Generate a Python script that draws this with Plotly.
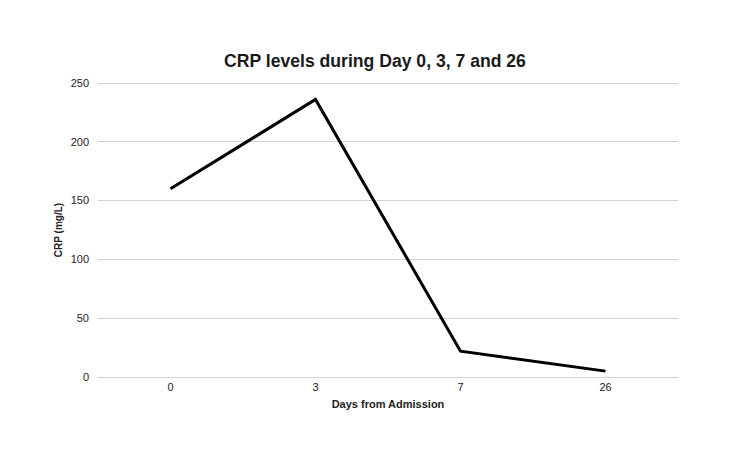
import plotly.graph_objects as go

days = ["0", "3", "7", "26"]
crp = [160, 236, 22, 5]
y_ticks = [0, 50, 100, 150, 200, 250]

fig = go.Figure()
fig.add_trace(go.Scatter(
    x=days, y=crp, mode="lines",
    line=dict(color="#000000", width=3),
    showlegend=False,
))

fig.update_layout(
    template="none",
    width=750, height=461,
    margin=dict(l=98, r=72, t=81, b=82),
    paper_bgcolor="white", plot_bgcolor="white",
    font=dict(family="Liberation Sans, Arial, sans-serif", color="#222222"),
    title=dict(
        text="<b>CRP levels during Day 0, 3, 7 and 26</b>",
        x=0.5, xanchor="center", y=1 - 61/461, yanchor="middle",
        font=dict(size=17.6, color="#1a1a1a"),
    ),
    xaxis=dict(
        type="category", range=[-0.5, 3.5],
        showgrid=False, zeroline=False, showline=False,
        ticks="", tickfont=dict(size=11, color="#222222"),
        title=dict(text="<b>Days from Admission</b>", font=dict(size=11, color="#222222"), standoff=8),
    ),
    yaxis=dict(
        range=[-1.7, 251.7], tickvals=y_ticks,
        showgrid=True, gridcolor="#d3d3d3", gridwidth=1,
        zeroline=True, zerolinecolor="#d3d3d3", zerolinewidth=1,
        showline=False, ticks="", ticklabelstandoff=8,
        tickfont=dict(size=11, color="#222222"),
        title=dict(text="<b>CRP (mg/L)</b>", font=dict(size=10, color="#222222"), standoff=6),
    ),
)

fig.write_html("out.html")
